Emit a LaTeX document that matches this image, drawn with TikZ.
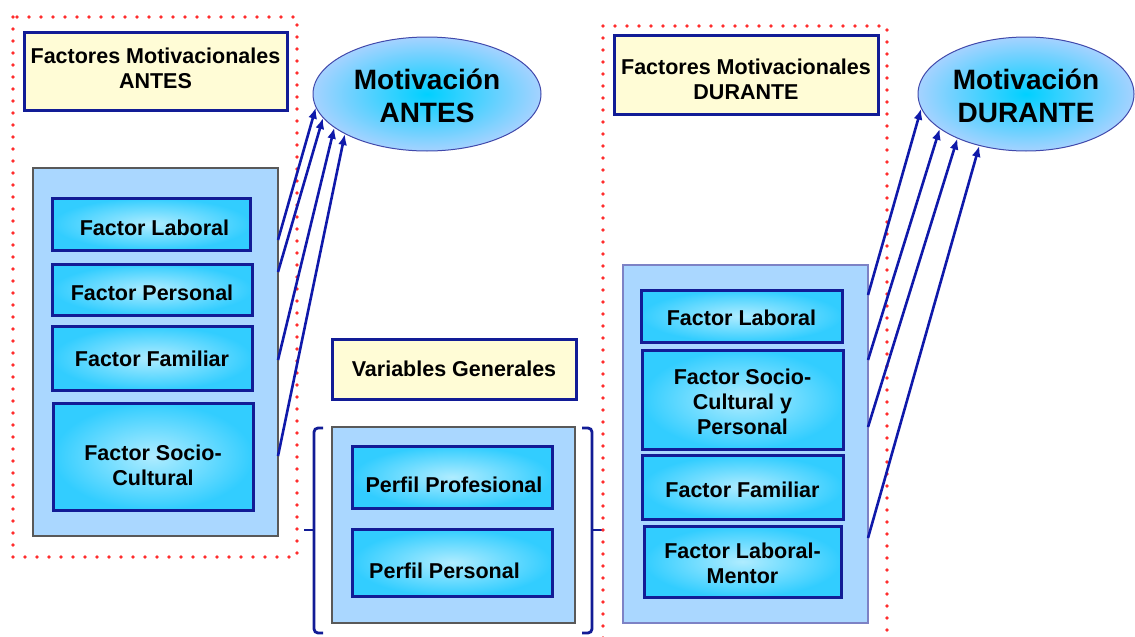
\documentclass[tikz,border=0pt]{standalone}
\usepackage{fontspec}
\setmainfont{Liberation Sans}
\usetikzlibrary{arrows.meta,shapes.geometric}
\definecolor{azulborde}{RGB}{18,28,150}
\definecolor{azulflecha}{RGB}{15,25,170}
\definecolor{cianfuerte}{RGB}{50,205,255}
\definecolor{cianclaro}{RGB}{175,236,255}
\definecolor{azulfondo}{RGB}{170,215,255}
\definecolor{amarillo}{RGB}{255,252,214}
\definecolor{rojopunto}{RGB}{255,45,45}
\definecolor{elipsecentro}{RGB}{0,208,255}
\definecolor{elipseborde}{RGB}{165,210,255}
% bajar el texto dentro de la caja (una linea / varias lineas)
\newcommand{\bajar}[2]{\raisebox{-#1pt}[\height][\depth]{#2}}
\newcommand{\bajarv}[2]{\raisebox{-#1pt}[\height][\depth]{\begin{tabular}{@{}c@{}}#2\end{tabular}}}

\begin{document}
\begin{tikzpicture}[x=1pt,y=-1pt]
\tikzset{factor/.style={draw=azulborde,line width=3pt,inner sep=0pt,align=center,
    inner color=cianclaro,outer color=cianfuerte,font=\bfseries\fontsize{21.5}{25}\selectfont},
  titulo/.style={draw=azulborde,line width=3pt,fill=amarillo,inner sep=0pt,align=center,
    font=\bfseries\fontsize{21.5}{25}\selectfont},
  marco/.style={draw=#1,line width=1.2pt,fill=azulfondo,inner sep=0pt},
  motiv/.style={ellipse,draw=azulborde!80,line width=1pt,inner sep=0pt,align=center,
    inner color=elipsecentro,outer color=elipseborde,font=\bfseries\fontsize{28}{33}\selectfont},
  puntos/.style={draw=rojopunto,line width=3.8pt,dash pattern=on 0pt off 12pt,line cap=round},
  flecha/.style={draw=azulflecha,line width=2.6pt,-{Latex[length=11pt,width=9pt]}},
  llave/.style={draw=azulborde,line width=2.8pt,rounded corners=4pt}}
\useasboundingbox (0,0) rectangle (1135,637);
\clip (0,0) rectangle (1135,637);

% zona ANTES
\draw[puntos] (13,17) rectangle (297,557);
\node[titulo,minimum width=263,minimum height=78] (titA) at (155.5,71) {\bajarv{0}{Factores Motivacionales\\ANTES}};
\node[motiv,minimum width=228,minimum height=114] (ellA) at (427,94) {\bajarv{5}{Motivación\\ANTES}};
\node[marco=black!65,minimum width=245,minimum height=368] (bigA) at (155.5,352) {};
\node[factor,minimum width=198,minimum height=52] (labA) at (151.5,224) {\bajar{4}{\hspace*{6pt}Factor Laboral}};
\node[factor,minimum width=200,minimum height=51] (perA) at (152,289.5) {\bajar{3}{Factor Personal}};
\node[factor,minimum width=200,minimum height=64] (famA) at (152,358) {\bajar{1}{Factor Familiar}};
\node[factor,minimum width=200,minimum height=107] (socA) at (153,456.5) {\bajarv{11}{Factor Socio-\\Cultural}};
\foreach \y/\a [count=\i] in {240/187,272/193,360/200,456/206}{
  \coordinate (sA\i) at (278,\y);
  \draw[flecha] (sA\i) -- (ellA.\a);
}

% variables generales
\node[titulo,minimum width=244,minimum height=60] (varG) at (454,369) {Variables Generales};
\node[marco=black!65,minimum width=243,minimum height=196] (bigV) at (453.5,525) {};
\node[factor,minimum width=200,minimum height=62] (pProf) at (452,477) {\bajar{8}{\hspace*{4pt}Perfil Profesional}};
\node[factor,minimum width=200,minimum height=67] (pPers) at (452,562.5) {\bajar{8}{Perfil Personal\hspace*{15pt}}};
\draw[llave] (323,428) -- (314,428) -- (314,633) -- (323,633);
\draw[llave] (314,530) -- (304,530);
\draw[llave] (582,428) -- (592,428) -- (592,633) -- (582,633);
\draw[llave] (592,530) -- (602,530);

% zona DURANTE
\draw[puntos] (603,26) rectangle (887,660);
\node[titulo,minimum width=264,minimum height=79] (titD) at (746,74.5) {\bajarv{7}{Factores Motivacionales\\DURANTE}};
\node[motiv,minimum width=216,minimum height=114] (ellD) at (1026,94) {\bajarv{5}{Motivación\\DURANTE}};
\node[marco=azulborde!55,minimum width=245,minimum height=358] (bigD) at (745.5,444) {};
\node[factor,minimum width=201,minimum height=52] (labD) at (741.5,316) {\bajar{2}{Factor Laboral}};
\node[factor,minimum width=201,minimum height=99] (socD) at (742.5,399.5) {\bajarv{5}{Factor Socio-\\Cultural y\\Personal}};
\node[factor,minimum width=201,minimum height=64] (famD) at (742.5,487) {\bajar{3}{Factor Familiar}};
\node[factor,minimum width=197,minimum height=71] (menD) at (742.5,561.5) {\bajarv{4}{Factor Laboral-\\Mentor}};
\foreach \y/\a [count=\i] in {295/188,360/202,427/213,538/228}{
  \coordinate (sD\i) at (868,\y);
  \draw[flecha] (sD\i) -- (ellD.\a);
}
\end{tikzpicture}
\end{document}
